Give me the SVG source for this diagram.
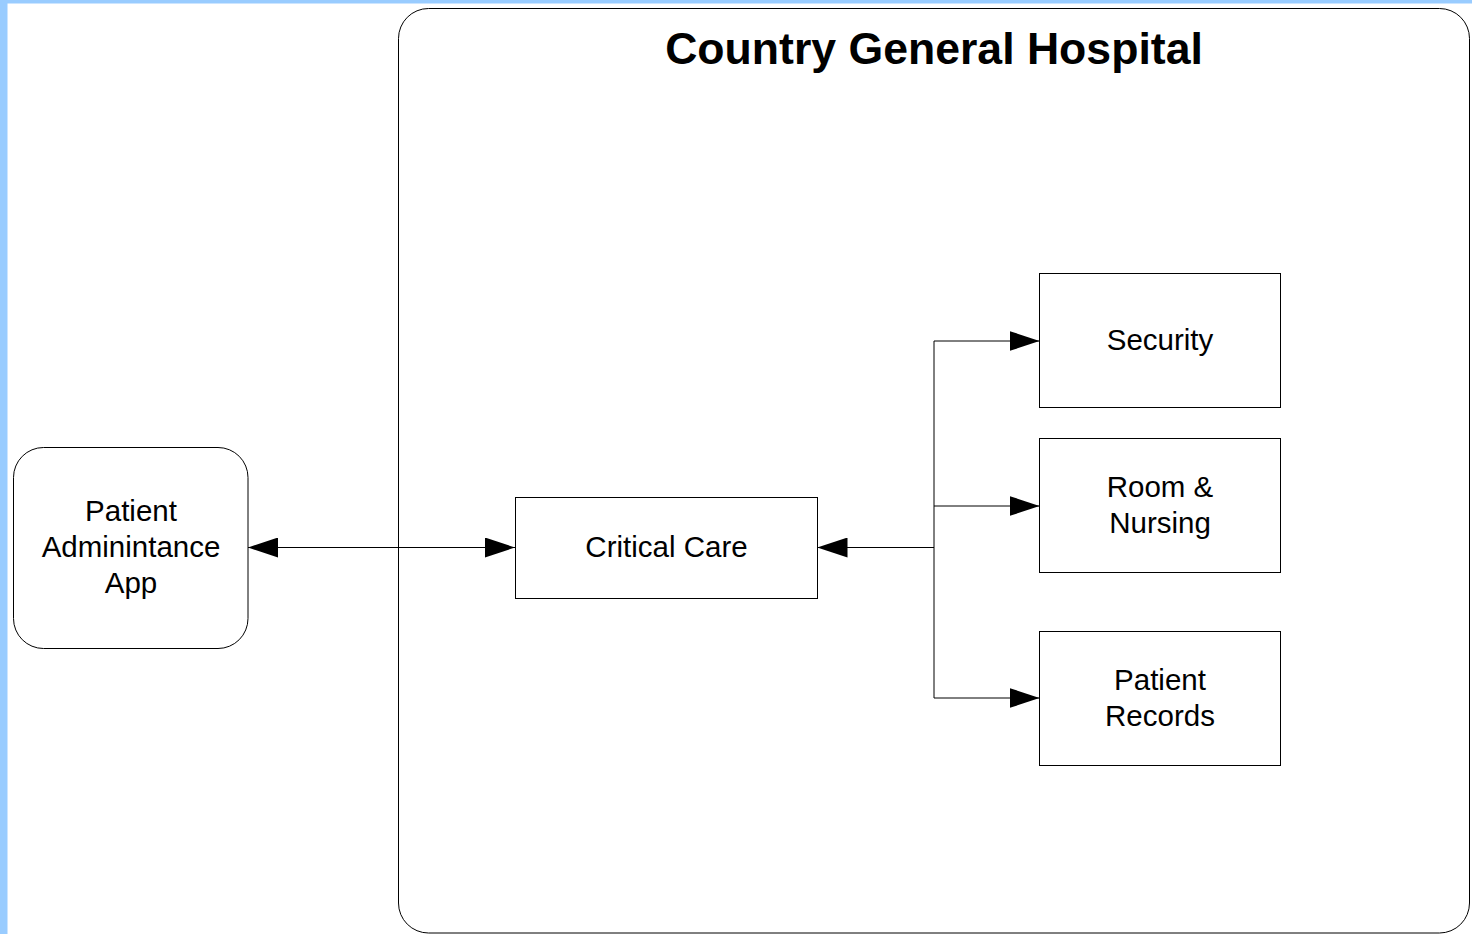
<svg xmlns="http://www.w3.org/2000/svg" width="1472" height="934" viewBox="0 0 1472 934">
<defs>
<style>
.box{fill:#fff;stroke:#000;stroke-width:1}
.lbl{font-family:"Liberation Sans",Arial,sans-serif;font-size:29.5px;fill:#000;text-anchor:middle}
.title{font-family:"Liberation Sans",Arial,sans-serif;font-size:44.6px;font-weight:bold;fill:#000;text-anchor:middle}
.conn{fill:none;stroke:#000;stroke-width:1}
</style>
<marker id="arr" viewBox="0 0 30 20" refX="30" refY="10" markerWidth="30" markerHeight="20" markerUnits="userSpaceOnUse" orient="auto-start-reverse">
<path d="M0,0 L30,10 L0,20 Z" fill="#000"/>
</marker>
</defs>
<rect x="0" y="0" width="1472" height="934" fill="#fff"/>
<rect x="0" y="0" width="1472" height="3.5" fill="#99ccff"/>
<rect x="0" y="0" width="7.5" height="934" fill="#99ccff"/>
<g id="hospital">
<rect class="box" x="398.5" y="8.5" width="1071" height="924.5" rx="30" ry="30"/>
<text class="title" x="934" y="64">Country General Hospital</text>
</g>
<g id="connectors">
<line class="conn" x1="248" y1="547.5" x2="515" y2="547.5" marker-start="url(#arr)" marker-end="url(#arr)"/>
<polyline class="conn" points="934,547.5 817.5,547.5" marker-end="url(#arr)"/>
<line class="conn" x1="934" y1="341" x2="934" y2="698"/>
<polyline class="conn" points="934,341 1039.5,341" marker-end="url(#arr)"/>
<polyline class="conn" points="934,506 1039.5,506" marker-end="url(#arr)"/>
<polyline class="conn" points="934,698 1039.5,698" marker-end="url(#arr)"/>
</g>
<g id="patient-app">
<rect class="box" x="13.5" y="447.5" width="234.5" height="201" rx="30" ry="30"/>
<text class="lbl" x="131" y="521">Patient</text>
<text class="lbl" x="131" y="557">Adminintance</text>
<text class="lbl" x="131" y="593">App</text>
</g>
<g id="critical-care">
<rect class="box" x="515.5" y="497.5" width="302" height="101"/>
<text class="lbl" x="666.5" y="557">Critical Care</text>
</g>
<g id="security">
<rect class="box" x="1039.5" y="273.5" width="241" height="134"/>
<text class="lbl" x="1160" y="350">Security</text>
</g>
<g id="room-nursing">
<rect class="box" x="1039.5" y="438.5" width="241" height="134"/>
<text class="lbl" x="1160" y="497">Room &amp;</text>
<text class="lbl" x="1160" y="533">Nursing</text>
</g>
<g id="patient-records">
<rect class="box" x="1039.5" y="631.5" width="241" height="134"/>
<text class="lbl" x="1160" y="690">Patient</text>
<text class="lbl" x="1160" y="726">Records</text>
</g>
</svg>
